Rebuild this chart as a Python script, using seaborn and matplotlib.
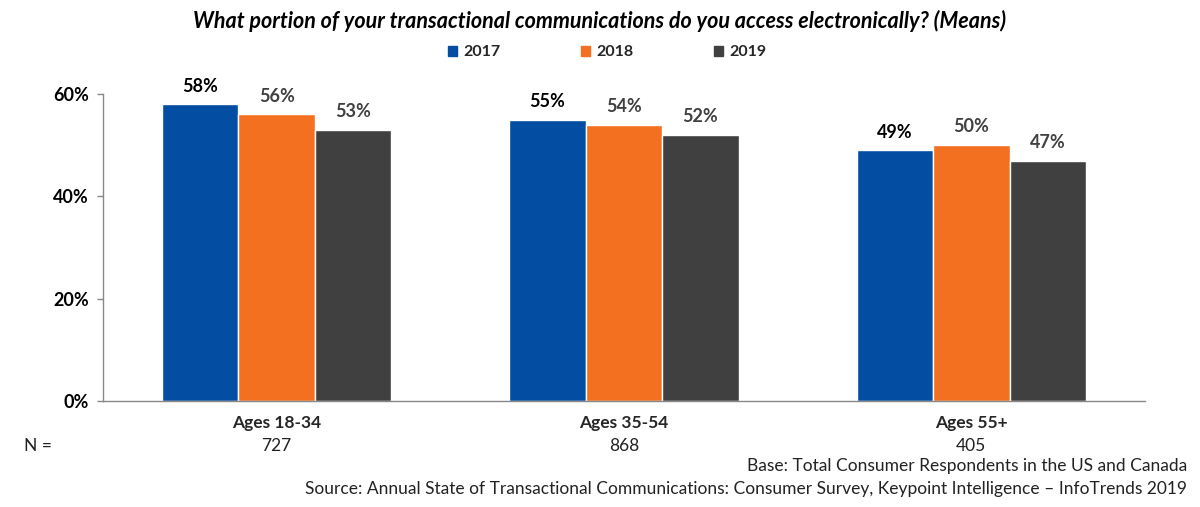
import numpy as np
import pandas as pd
import matplotlib
matplotlib.use("Agg")
import matplotlib.pyplot as plt
import seaborn as sns

groups = ["Ages 18-34", "Ages 35-54", "Ages 55+"]
years = ["2017", "2018", "2019"]
vals_2017 = [58, 55, 49]
vals_2018 = [56, 54, 50]
vals_2019 = [53, 52, 47]
n_counts = ["727", "868", "405"]
title = "What portion of your transactional communications do you access electronically? (Means)"
base_note = "Base: Total Consumer Respondents in the US and Canada"
source_note = "Source: Annual State of Transactional Communications: Consumer Survey, Keypoint Intelligence \u2013 InfoTrends 2019"

colors = ["#034ea2", "#f37021", "#404040"]
label_colors = ["#000000", "#404040", "#404040"]

df = pd.DataFrame({
    "group": groups * 3,
    "year": [y for y in years for _ in groups],
    "value": vals_2017 + vals_2018 + vals_2019,
})

sns.set_style("white")
plt.rcParams["font.family"] = ["Lato", "DejaVu Sans"]

fig = plt.figure(figsize=(12, 5.07), dpi=100)
ax = fig.add_axes([0.0858, 0.209, 0.8684, 0.6056])

sns.barplot(data=df, x="group", y="value", hue="year", order=groups,
            hue_order=years, palette=colors, width=0.66, saturation=1,
            edgecolor="white", linewidth=1, legend=False, ax=ax)

ax.set_ylim(0, 60)
ax.set_xlim(-0.5, 2.5)
ax.set_yticks([0, 20, 40, 60])
ax.set_yticklabels([f"{t}%" for t in [0, 20, 40, 60]], fontsize=13,
                   fontweight="bold", color="#000000")
ax.tick_params(axis="y", length=4, width=1, color="#888888", pad=6, left=True)
ax.set_xticks(range(3))
ax.set_xticklabels(groups, fontsize=12.5, fontweight="bold")
ax.tick_params(axis="x", which="major", length=0, pad=10)
ax.set_xticks([-0.5, 0.5, 1.5, 2.5], minor=True)
ax.tick_params(axis="x", which="minor", length=5, width=1, color="#888888", direction="out")
ax.set_xlabel("")
ax.set_ylabel("")

for side in ["top", "right"]:
    ax.spines[side].set_visible(False)
for side in ["left", "bottom"]:
    ax.spines[side].set_color("#888888")
    ax.spines[side].set_linewidth(1)

for cont, lc in zip(ax.containers, label_colors):
    ax.bar_label(cont, labels=[f"{v:.0f}%" for v in cont.datavalues],
                 padding=7, fontsize=13, fontweight="bold", color=lc, clip_on=False)

# legend
handles = [plt.Rectangle((0, 0), 1, 1, color=c) for c in colors]
fig.legend(handles, years, loc="center", bbox_to_anchor=(0.506, 0.897), ncol=3,
           frameon=False, handlelength=0.6, handleheight=0.6,
           handletextpad=0.4, columnspacing=5.0, prop={"weight": "bold", "size": 11.5})

fig.text(0.5, 0.958, title, ha="center", va="center", fontsize=15.5,
         fontweight="bold", fontstyle="italic", color="#000000")

# N row
fig.text(38 / 1200, 1 - 446 / 507, "N =", ha="center", va="center", fontsize=12.5,
         color="#222222")
for i, n in enumerate(n_counts):
    xd = ax.transData.transform((i, 0))[0] / fig.bbox.width
    fig.text(xd, 1 - 446 / 507, n, ha="center", va="center", fontsize=12.5,
             color="#222222")

fig.text(1187 / 1200, 1 - 466 / 507, base_note, ha="right", va="center", fontsize=12.5,
         color="#222222")
fig.text(1187 / 1200, 1 - 489 / 507, source_note, ha="right", va="center", fontsize=12.5,
         color="#222222")

fig.savefig("out.png", dpi=100)
